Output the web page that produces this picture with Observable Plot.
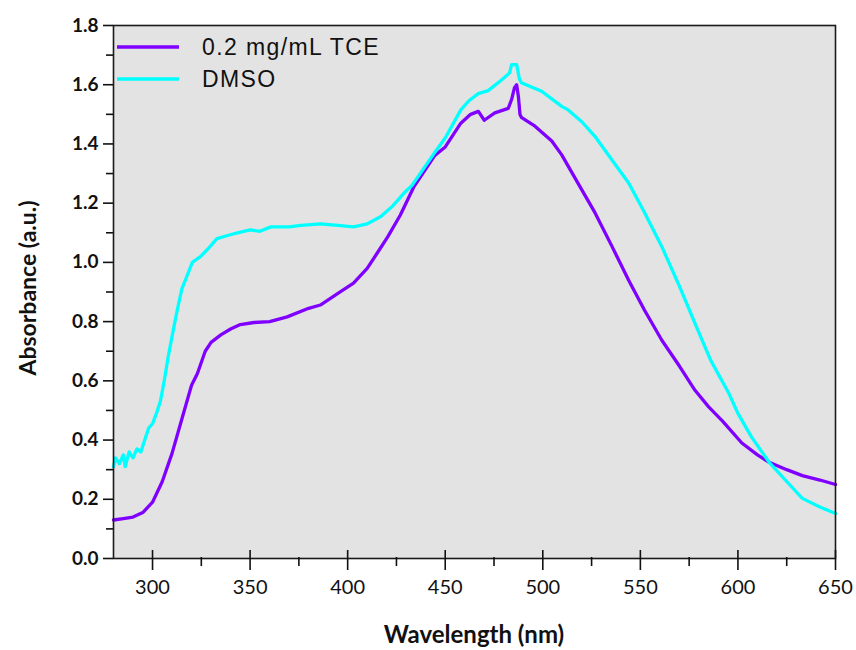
<!DOCTYPE html>
<html>
<head>
<meta charset="utf-8">
<script src="https://cdn.jsdelivr.net/npm/d3@7"></script>
<script src="https://cdn.jsdelivr.net/npm/@observablehq/plot@0.6"></script>
<style>
  html, body { margin: 0; padding: 0; background: #fff; }
</style>
</head>
<body>
<div id="chart"></div>
<script>
// ---- Data ----
const seriesNames = ["0.2 mg/mL TCE", "DMSO"];
const seriesColors = ["#8000ff", "#00ffff"];

const wlTCE = [280, 285, 290, 295, 300, 305, 310, 315, 320, 323, 327, 330, 335, 340, 345, 352, 360, 369, 380, 386, 395, 403, 410, 415, 420.6, 427, 434, 444.5, 450, 458, 463, 467, 470, 475.4, 480, 482.3, 484, 485.5, 486.6, 487.5, 488.3, 489, 496, 504.6, 509.7, 520, 526.8, 535, 544, 552, 561, 570, 578, 585, 592, 602, 610, 616, 625, 633, 642, 650];
const absTCE = [0.13, 0.135, 0.14, 0.155, 0.19, 0.26, 0.355, 0.47, 0.585, 0.625, 0.70, 0.73, 0.755, 0.775, 0.79, 0.797, 0.80, 0.816, 0.845, 0.856, 0.895, 0.93, 0.98, 1.03, 1.087, 1.16, 1.256, 1.36, 1.39, 1.47, 1.50, 1.51, 1.48, 1.505, 1.515, 1.52, 1.55, 1.59, 1.60, 1.56, 1.50, 1.49, 1.46, 1.41, 1.363, 1.245, 1.167, 1.06, 0.94, 0.84, 0.737, 0.65, 0.568, 0.512, 0.465, 0.39, 0.35, 0.325, 0.30, 0.28, 0.265, 0.25];

const wlDMSO = [280, 281, 283, 285, 286, 288, 290, 292, 294, 296, 298, 300, 302, 304, 306, 308, 310, 312.7, 315, 318, 320.4, 324.7, 329, 333, 338, 343.5, 350, 355, 360.7, 370, 376, 386, 395, 403, 410, 417, 423, 429, 433, 444.5, 450, 458, 462, 466.9, 472, 479, 483, 484, 486.6, 488, 489, 499.4, 509.7, 513, 520, 526.8, 535, 544, 552, 561, 570, 578, 586, 595.4, 600, 607, 616, 625, 633, 642, 650];
const absDMSO = [0.31, 0.34, 0.32, 0.35, 0.31, 0.36, 0.34, 0.37, 0.36, 0.40, 0.44, 0.455, 0.49, 0.53, 0.60, 0.68, 0.75, 0.84, 0.91, 0.96, 1.00, 1.02, 1.05, 1.08, 1.09, 1.10, 1.11, 1.105, 1.12, 1.12, 1.125, 1.13, 1.125, 1.12, 1.13, 1.155, 1.19, 1.235, 1.26, 1.37, 1.42, 1.515, 1.545, 1.57, 1.58, 1.617, 1.64, 1.668, 1.668, 1.62, 1.607, 1.578, 1.527, 1.515, 1.475, 1.425, 1.35, 1.268, 1.17, 1.053, 0.92, 0.794, 0.67, 0.557, 0.49, 0.41, 0.325, 0.26, 0.203, 0.174, 0.152];

const xTicks = [300, 350, 400, 450, 500, 550, 600, 650];
const xMinorTicks = [325, 375, 425, 475, 525, 575, 625];
const yTicks = [0, 0.2, 0.4, 0.6, 0.8, 1.0, 1.2, 1.4, 1.6, 1.8];
const yMinorTicks = [0.1, 0.3, 0.5, 0.7, 0.9, 1.1, 1.3, 1.5, 1.7];

const xLabel = "Wavelength (nm)";
const yLabel = "Absorbance (a.u.)";

// ---- Build tables ----
const tce = wlTCE.map((w, i) => ({wl: w, a: absTCE[i], s: seriesNames[0]}));
const dmso = wlDMSO.map((w, i) => ({wl: w, a: absDMSO[i], s: seriesNames[1]}));

const W = 856, H = 650;
const mL = 113, mR = 21, mT = 25, mB = 92;

const svg = Plot.plot({
  width: W,
  height: H,
  marginLeft: mL,
  marginRight: mR,
  marginTop: mT,
  marginBottom: mB,
  style: {fontFamily: "Lato, 'Open Sans', sans-serif", color: "#111", background: "#fff"},
  x: {domain: [280, 650]},
  y: {domain: [0, 1.8]},
  marks: [
    Plot.frame({fill: "#e3e3e3"}),
    Plot.line(tce, {x: "wl", y: "a", stroke: seriesColors[0], strokeWidth: 3.3}),
    Plot.line(dmso, {x: "wl", y: "a", stroke: seriesColors[1], strokeWidth: 3.3}),
    Plot.frame({stroke: "#1a1a1a", strokeWidth: 1.6}),
    Plot.axisY({ticks: yTicks, tickSize: 10, tickPadding: 5, tickFormat: d => d.toFixed(1), fontSize: 19, fontWeight: "bold", label: null, strokeWidth: 1.6}),
    Plot.axisY({ticks: yMinorTicks, tickSize: 7, tickFormat: () => "", label: null, strokeWidth: 1.6}),
    Plot.axisX({ticks: xTicks, tickSize: 20, dy: -8, tickFormat: () => "", label: null, strokeWidth: 1.6}),
    Plot.axisX({ticks: xMinorTicks, tickSize: 9, dy: -1, tickFormat: () => "", label: null, strokeWidth: 1.6}),
    Plot.axisX({ticks: xTicks, tickSize: 0, tickPadding: 21, fontSize: 20, label: null})
  ]
});

const s = d3.select(svg);
// Axis titles
s.append("text")
  .attr("x", mL + (W - mL - mR) / 2)
  .attr("y", 643)
  .attr("text-anchor", "middle")
  .attr("font-family", "Lato, sans-serif")
  .attr("font-weight", "bold")
  .attr("font-size", 24)
  .attr("fill", "#111")
  .text(xLabel);
s.append("text")
  .attr("transform", `translate(36, ${288}) rotate(-90)`)
  .attr("text-anchor", "middle")
  .attr("font-family", "Lato, sans-serif")
  .attr("font-weight", "bold")
  .attr("font-size", 23)
  .attr("fill", "#111")
  .text(yLabel);

// Legend inside plot
const leg = s.append("g").attr("text-anchor", "start");
seriesNames.forEach((name, i) => {
  const y = 47 + i * 32;
  leg.append("line")
    .attr("x1", 117).attr("x2", 179)
    .attr("y1", y).attr("y2", y)
    .attr("stroke", seriesColors[i]).attr("stroke-width", 3.5);
  leg.append("text")
    .attr("x", 202).attr("y", y + 8)
    .attr("text-anchor", "start")
    .attr("font-family", "'Liberation Sans', Arial, sans-serif")
    .attr("font-size", 23)
    .attr("letter-spacing", 1.4)
    .attr("fill", "#111")
    .text(name);
});

document.getElementById("chart").appendChild(svg);
</script>
</body>
</html>
